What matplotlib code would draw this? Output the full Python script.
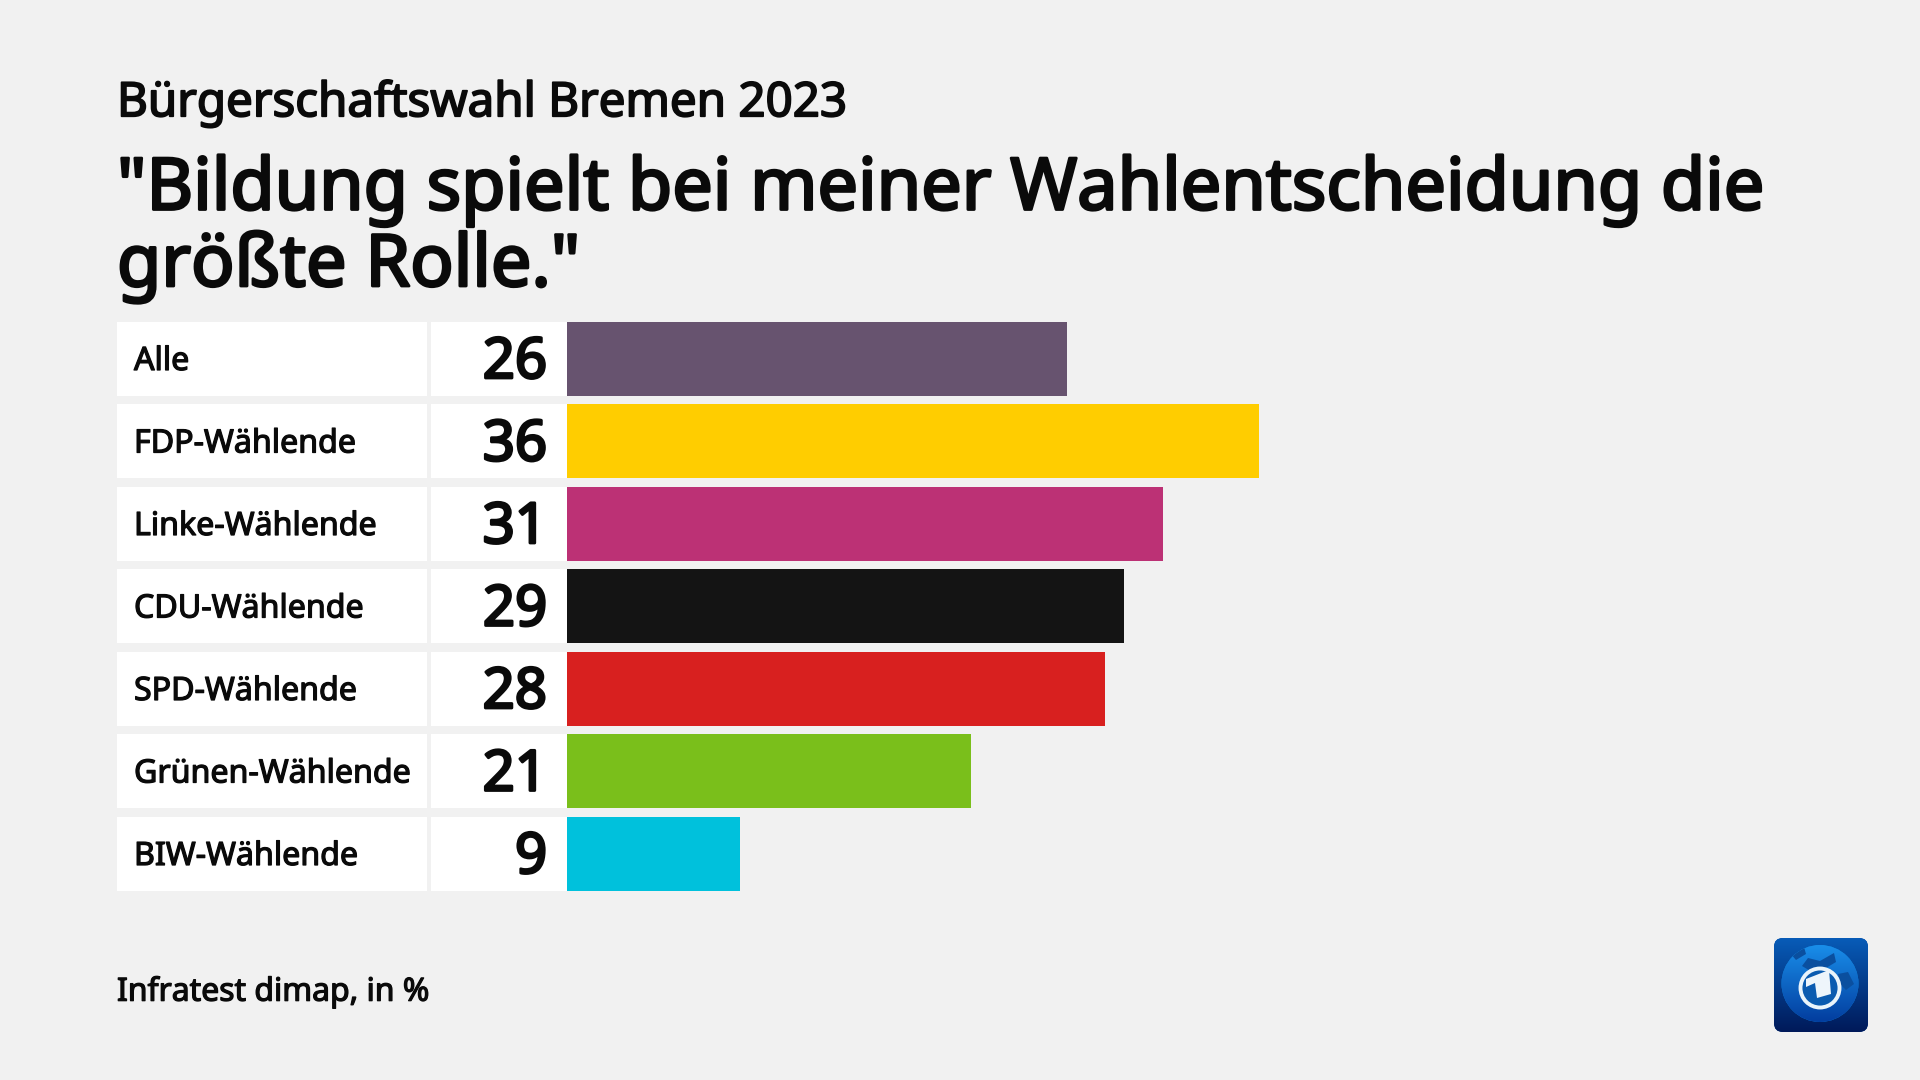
import matplotlib
matplotlib.use('Agg')
import matplotlib.pyplot as plt
import matplotlib.patheffects as pe
import numpy as np
from matplotlib.patches import Circle, FancyBboxPatch, Polygon, Rectangle

categories = ['Alle', 'FDP-Wählende', 'Linke-Wählende', 'CDU-Wählende',
              'SPD-Wählende', 'Grünen-Wählende', 'BIW-Wählende']
values = [26, 36, 31, 29, 28, 21, 9]
colors = ['#67536f', '#ffcd00', '#bc3175', '#141414', '#d8201f', '#7abf1b', '#00c1dc']

BG = '#f1f1f1'
INK = '#0a0a0a'
W, H = 1920, 1080
plt.rcParams['font.family'] = ['Noto Sans', 'DejaVu Sans']

fig = plt.figure(figsize=(W / 100, H / 100), dpi=100, facecolor=BG)

# page axes in pixels, for the text and the white cells
page = fig.add_axes([0, 0, 1, 1])
page.set_xlim(0, W)
page.set_ylim(H, 0)
page.axis('off')


def heavy(x, y, s, size, stroke, ha='left'):
    # no semibold cut installed, so thicken the regular one
    t = page.text(x, y, s, fontsize=size, va='center', ha=ha, color=INK)
    t.set_path_effects([pe.withStroke(linewidth=stroke, foreground=INK)])
    return t


heavy(117, 103.5, 'Bürgerschaftswahl Bremen 2023', 34.2, 1.3)
heavy(117, 191, '"Bildung spielt bei meiner Wahlentscheidung die', 51.85, 2.0)
heavy(117, 267, 'größte Rolle."', 51.85, 2.0)
heavy(117, 992, 'Infratest dimap, in %', 23, 0.9)

top, pitch, row_h = 321.5, 82.5, 74
for i, (cat, val) in enumerate(zip(categories, values)):
    y = top + i * pitch
    page.add_patch(Rectangle((117, y), 310, row_h, fc='white', ec='none'))
    page.add_patch(Rectangle((431, y), 136, row_h, fc='white', ec='none'))
    heavy(134, y + row_h / 2 + 3, cat, 23.15, 0.9)
    heavy(547, y + row_h / 2 + 5, str(val), 40.5, 2.0, ha='right')

# bars: own axes so that values go through the scale
x0 = 567
ax = fig.add_axes([x0 / W, 1 - (top + 7 * pitch) / H, (W - x0) / W, 7 * pitch / H])
ax.patch.set_alpha(0)
ax.set_xlim(0, (W - x0) / 19.22)
ax.set_ylim(7, 0)
ax.axis('off')
ax.barh(np.arange(7) + 0.5 * row_h / pitch, values, height=row_h / pitch, color=colors, linewidth=0)

# logo
bx, by, bs = 1774, 938, 94
box = FancyBboxPatch((bx + 7, by + 7), bs - 14, bs - 14, boxstyle='round,pad=7,rounding_size=9',
                     fc='#0a4a9c', ec='none')
page.add_patch(box)
grad = np.linspace(0, 1, 256).reshape(-1, 1, 1)
c1 = np.array([0.03, 0.36, 0.72]).reshape(1, 1, 3)
c2 = np.array([0.0, 0.10, 0.35]).reshape(1, 1, 3)
im = page.imshow(c1 * (1 - grad) + c2 * grad, extent=(bx, bx + bs, by + bs, by), aspect='auto', zorder=2)
im.set_clip_path(box)

cx, cy = 1820, 983.5
glob = Circle((cx, cy), 38.5, fc='#0d7fd6', ec='none', zorder=3)
page.add_patch(glob)
grad2 = np.linspace(0, 1, 256).reshape(-1, 1, 1)
c3 = np.array([0.10, 0.56, 0.92]).reshape(1, 1, 3)
c4 = np.array([0.01, 0.24, 0.62]).reshape(1, 1, 3)
im2 = page.imshow(c3 * (1 - grad2) + c4 * grad2, extent=(cx - 39, cx + 39, cy + 39, cy - 39),
                  aspect='auto', zorder=3)
im2.set_clip_path(glob)
page.set_xlim(0, W)
page.set_ylim(H, 0)

# rough continents on the globe
land_shapes = [
    [(1802, 966), (1808, 958), (1820, 961), (1834, 953), (1836, 962), (1826, 968), (1812, 972)],
    [(1838, 974), (1848, 972), (1854, 984), (1846, 990), (1840, 984)],
    [(1790, 953), (1804, 947), (1806, 954), (1796, 960)],
]
for pts in land_shapes:
    land = Polygon(pts, fc='#0a4f9f', ec='none', zorder=3.5)
    page.add_patch(land)
    land.set_clip_path(glob)

page.add_patch(Circle((1820, 988), 19.5, fc='#0b5bb0', ec='#eaf4fb', lw=2.8, zorder=4))
page.add_patch(Polygon([(1806, 979), (1829, 970), (1831, 994), (1817, 998), (1815, 983), (1806, 987)],
                       fc='#eef5fb', ec='none', zorder=5))

fig.savefig('out.png', dpi=100, facecolor=BG)
